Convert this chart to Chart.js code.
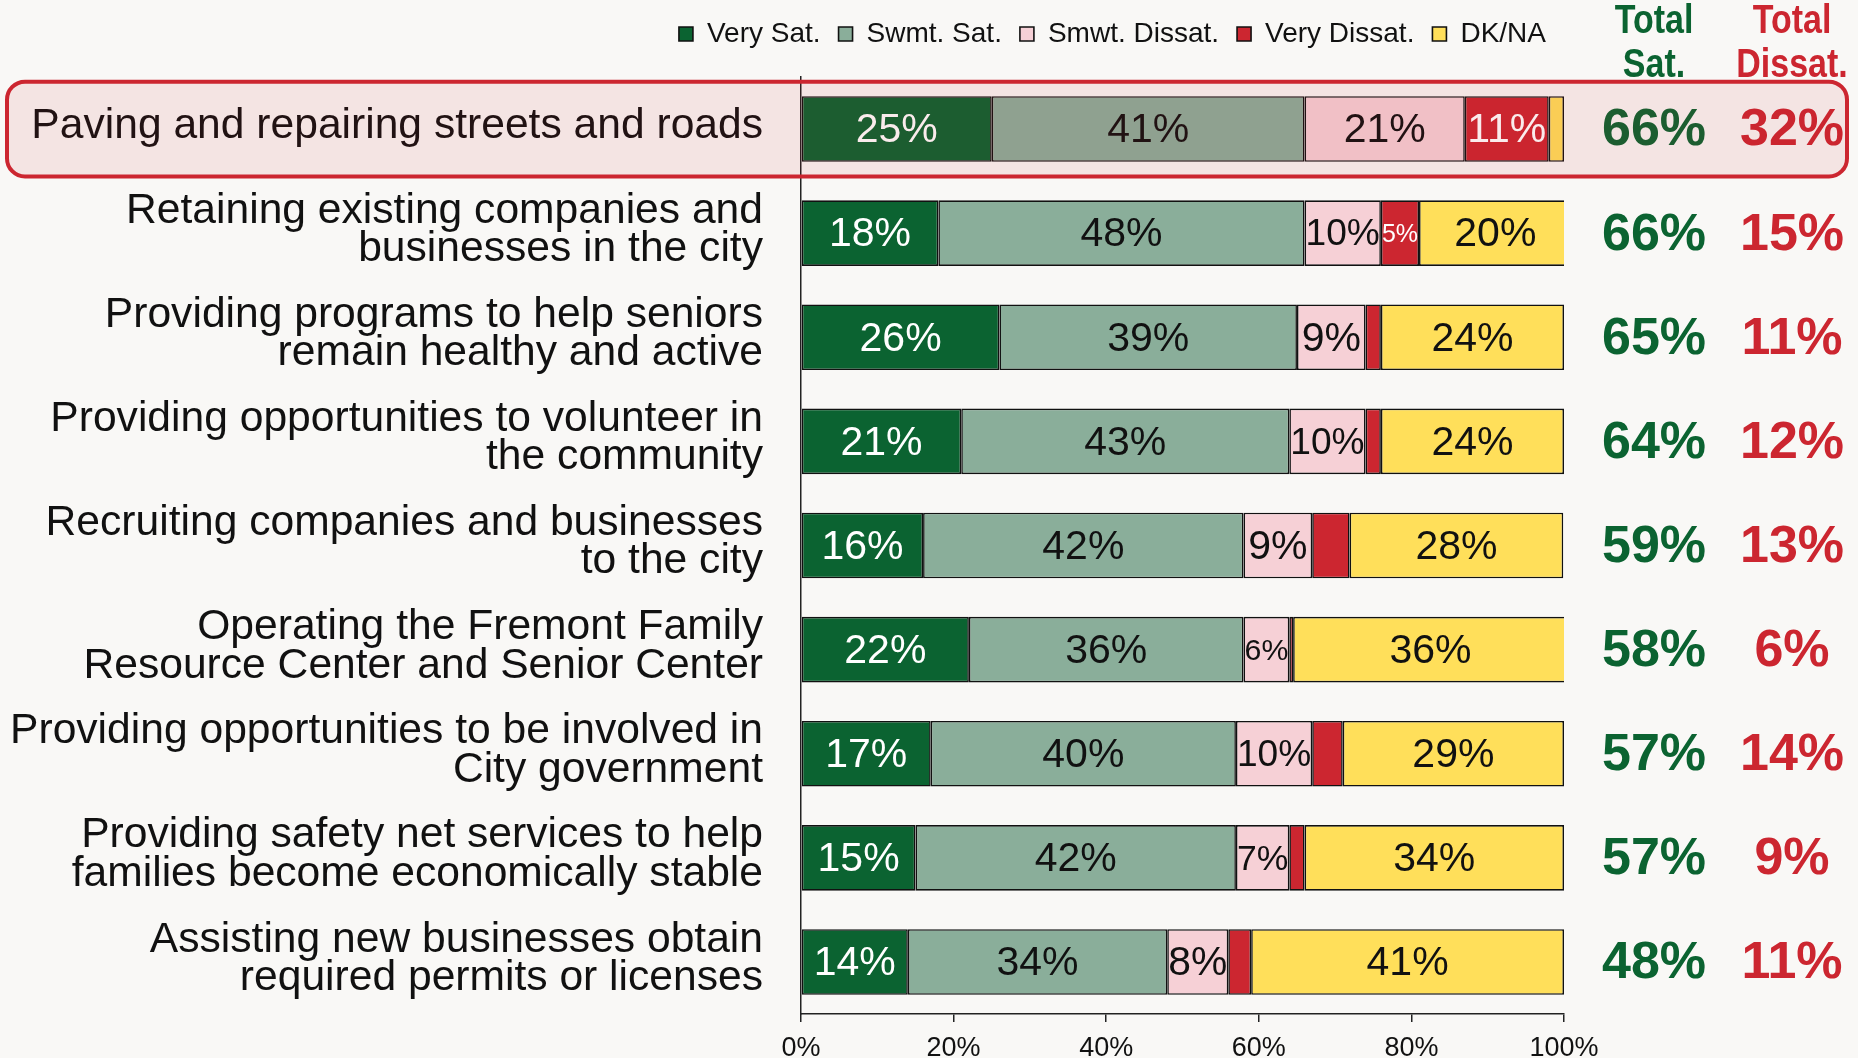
<!DOCTYPE html>
<html>
<head>
<meta charset="utf-8">
<script src="https://cdn.jsdelivr.net/npm/chart.js@4.4.1/dist/chart.umd.min.js"></script>
<style>
  html, body { margin: 0; padding: 0; background: #f9f8f6; }
  canvas { display: block; }
</style>
</head>
<body>
<canvas id="chart" width="1858" height="1058"></canvas>
<script>
const categories = [
  'Paving and repairing streets and roads',
  ['Retaining existing companies and', 'businesses in the city'],
  ['Providing programs to help seniors', 'remain healthy and active'],
  ['Providing opportunities to volunteer in', 'the community'],
  ['Recruiting companies and businesses', 'to the city'],
  ['Operating the Fremont Family', 'Resource Center and Senior Center'],
  ['Providing opportunities to be involved in', 'City government'],
  ['Providing safety net services to help', 'families become economically stable'],
  ['Assisting new businesses obtain', 'required permits or licenses']
];
const seriesNames = ['Very Sat.', 'Swmt. Sat.', 'Smwt. Dissat.', 'Very Dissat.', 'DK/NA'];
const verySat    = [25, 18, 26, 21, 16, 22, 17, 15, 14];
const swmtSat    = [41, 48, 39, 43, 42, 36, 40, 42, 34];
const smwtDissat = [21, 10, 9, 10, 9, 6, 10, 7, 8];
const veryDissat = [11, 5, 2, 2, 4.9, 0.5, 4, 2, 3];
const dkNa       = [2, 20, 24, 24, 28, 36, 29, 34, 41];
const totalSat    = [66, 66, 65, 64, 59, 58, 57, 57, 48];
const totalDissat = [32, 15, 11, 12, 13, 6, 14, 9, 11];

const colors = ['#0b6331', '#8aae9a', '#f6d0d6', '#cc2630', '#ffdf5a'];
const labelColors = ['#ffffff', '#111111', '#111111', '#ffffff', '#111111'];
const GREEN = '#0b6331', RED = '#cc2630';
const SANS = "'Liberation Sans', Arial, sans-serif";

// legend sits high, leave a gap below it before the plot starts
const legendGap = {
  id: 'legendGap',
  beforeLayout(chart) {
    const lg = chart.legend;
    if (lg && !lg._gapPatched) {
      const fit = lg.fit;
      lg.fit = function () { fit.call(this); this.height += 19; };
      lg._gapPatched = true;
    }
  }
};

// percentage labels inside each segment, shrunk to fit narrow ones
const segmentLabels = {
  id: 'segmentLabels',
  afterDatasetsDraw(chart) {
    const ctx = chart.ctx;
    ctx.save();
    ctx.textAlign = 'center';
    ctx.textBaseline = 'middle';
    chart.data.datasets.forEach((ds, i) => {
      const meta = chart.getDatasetMeta(i);
      meta.data.forEach((bar, j) => {
        const v = ds.data[j];
        if (v < 5) return;
        const text = Math.round(v) + '%';
        const w = Math.abs(bar.x - bar.base);
        let size = 41;
        ctx.font = size + 'px ' + SANS;
        const tw = ctx.measureText(text).width;
        if (tw > w - 2) size = size * (w - 2) / tw;
        ctx.font = size + 'px ' + SANS;
        ctx.fillStyle = labelColors[i];
        ctx.fillText(text, (bar.x + bar.base) / 2, bar.y + 2);
      });
    });
    ctx.restore();
  }
};

// condensed bold header text
function narrowText(ctx, text, x, y) {
  ctx.save();
  ctx.translate(x, y);
  ctx.scale(0.85, 1);
  ctx.fillText(text, 0, 0);
  ctx.restore();
}

// total columns on the right and the highlight around the first row
const totalsAndHighlight = {
  id: 'totalsAndHighlight',
  afterDraw(chart) {
    const ctx = chart.ctx;
    const y = chart.scales.y;
    const colSat = 1654, colDis = 1792;
    ctx.save();
    ctx.textAlign = 'center';
    ctx.textBaseline = 'middle';

    ctx.font = 'bold 40px ' + SANS;
    ctx.fillStyle = GREEN;
    narrowText(ctx, 'Total', colSat, 22);
    narrowText(ctx, 'Sat.', colSat, 66);
    ctx.fillStyle = RED;
    narrowText(ctx, 'Total', colDis, 22);
    narrowText(ctx, 'Dissat.', colDis, 66);

    ctx.font = 'bold 52px ' + SANS;
    categories.forEach((c, i) => {
      const cy = y.getPixelForValue(i) + 2;
      ctx.fillStyle = GREEN;
      ctx.fillText(totalSat[i] + '%', colSat, cy);
      ctx.fillStyle = RED;
      ctx.fillText(totalDissat[i] + '%', colDis, cy);
    });

    const rowH = y.getPixelForValue(1) - y.getPixelForValue(0);
    const cy0 = y.getPixelForValue(0);
    const top = cy0 - rowH * 0.455, h = rowH * 0.91;
    ctx.beginPath();
    ctx.roundRect(7, top, 1840, h, 18);
    ctx.fillStyle = 'rgba(204, 38, 48, 0.09)';
    ctx.fill();
    ctx.lineWidth = 4;
    ctx.strokeStyle = RED;
    ctx.stroke();
    ctx.restore();
  }
};

new Chart(document.getElementById('chart'), {
  type: 'bar',
  data: {
    labels: categories,
    datasets: [verySat, swmtSat, smwtDissat, veryDissat, dkNa].map((d, i) => ({
      label: seriesNames[i],
      data: d,
      backgroundColor: colors[i],
      borderColor: '#111111',
      borderWidth: 1.6,
      borderSkipped: false,
      barPercentage: 0.63,
      categoryPercentage: 1
    }))
  },
  options: {
    indexAxis: 'y',
    responsive: false,
    animation: false,
    devicePixelRatio: 1,
    layout: { padding: { left: 0, right: 294, top: 2, bottom: 0 } },
    plugins: {
      tooltip: { enabled: false },
      legend: {
        position: 'top',
        align: 'end',
        labels: {
          font: { family: SANS, size: 28 },
          color: '#111111',
          boxWidth: 14,
          boxHeight: 14,
          padding: 18
        }
      }
    },
    scales: {
      x: {
        stacked: true,
        min: 0,
        max: 100,
        afterFit: s => { s.height = 44; },
        ticks: {
          stepSize: 20,
          padding: 10,
          color: '#111111',
          font: { family: SANS, size: 27 },
          callback: v => v + '%'
        },
        grid: { drawOnChartArea: false, tickLength: 8, color: '#222222', lineWidth: 1.5 },
        border: { color: '#222222', width: 1.5 }
      },
      y: {
        stacked: true,
        afterFit: s => { s.width = 801; s.paddingTop = 0; s.paddingBottom = 0; },
        ticks: {
          padding: 30,
          labelOffset: -3,
          color: '#111111',
          font: { family: SANS, size: 42.6, lineHeight: 0.9 }
        },
        grid: { display: false },
        border: { color: '#222222', width: 1.5 }
      }
    }
  },
  plugins: [legendGap, segmentLabels, totalsAndHighlight]
});
</script>
</body>
</html>
